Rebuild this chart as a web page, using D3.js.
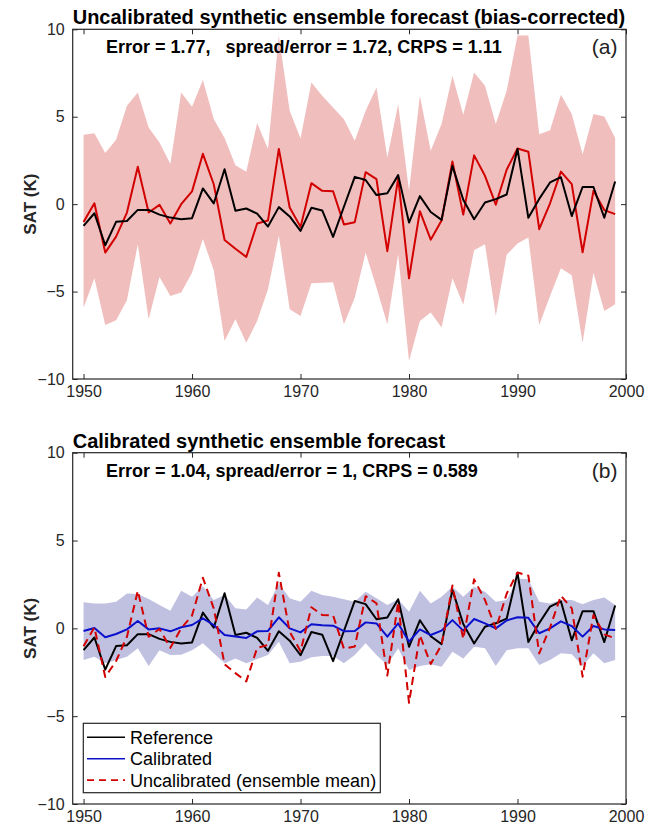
<!DOCTYPE html>
<html>
<head>
<meta charset="utf-8">
<script src="https://cdnjs.cloudflare.com/ajax/libs/d3/7.8.5/d3.min.js"></script>
<style>
  body { margin: 0; background: #fff; }
  text { font-family: "Liberation Sans", Arial, Helvetica, sans-serif; }
</style>
</head>
<body>
<svg id="chart"></svg>
<script>
var width = 659;
var height = 830;

// years on the x axis
var years = d3.range(1950, 2000);

// reference SAT anomaly (black)
var reference = [
  -1.24, -0.52, -2.35, -1.01, -0.96, -0.33, -0.33, -0.60, -0.77, -0.86,
  -0.80,  0.90,  0.04,  2.00, -0.38, -0.25, -0.54, -1.28, -0.17, -0.70,
  -1.53, -0.21, -0.36, -1.87, -0.15,  1.56,  1.38,  0.52,  0.62,  1.66,
  -1.05,  0.46, -0.45, -0.90,  2.19,  0.25, -0.86,  0.09,  0.29,  0.55,
   3.16, -0.78,  0.30,  1.24,  1.54, -0.68,  0.98,  0.98, -0.78,  1.30
];

// uncalibrated ensemble mean (red)
var uncalMean = [
  -1.02,  0.05, -2.77, -1.86, -0.48,  2.14, -0.48, -0.04, -1.11,  0.00,
   0.73,  2.88,  1.14, -2.05, -2.55, -3.02, -1.11, -0.94,  3.16, -0.19,
  -1.30,  1.20,  0.76,  0.74, -1.16, -1.03,  1.83,  1.43, -2.69,  1.50,
  -4.24, -0.40, -2.03, -0.94,  2.44, -0.60,  2.79,  1.62, -0.03,  1.97,
   3.18,  3.00, -1.43,  0.05,  1.86,  1.14, -2.75,  0.76, -0.34, -0.57
];

// uncalibrated ensemble spread (pink band)
var uncalUpper = [
  3.97, 4.06, 2.92, 3.68, 5.63, 6.39, 4.39, 3.53, 2.29, 6.39,
  5.57, 7.10, 4.87, 3.78, 2.23, 1.85, 4.64, 3.15, 9.63, 5.34,
  3.76, 6.96, 6.20, 5.53, 4.85, 3.62, 5.34, 6.67, 2.67, 5.72,
  0.76, 6.20, 3.05, 4.58, 7.34, 5.11, 7.53, 6.77, 4.58, 6.49,
  9.65, 9.65, 4.00, 4.23, 6.25, 5.15, 2.86, 5.15, 5.01, 3.78
];
var uncalLower = [
  -5.92, -4.24, -6.91, -6.64, -5.50, -2.29, -6.58, -4.16, -5.25, -5.06,
  -3.92, -2.00, -3.78, -7.82, -6.58, -7.92, -6.68, -4.87, -1.81, -6.01,
  -6.39, -4.52, -4.50, -4.47, -6.87, -5.35, -2.77, -4.77, -6.87, -2.86,
  -8.97, -6.68, -6.20, -7.06, -4.24, -5.76, -2.63, -2.29, -6.39, -2.90,
  -2.25, -1.91, -6.91, -5.25, -3.66, -4.07, -7.92, -3.92, -6.11, -5.73
];

// calibrated forecast mean (blue)
var calMean = [
  -0.15,  0.02, -0.51, -0.32, -0.06,  0.42, -0.06,  0.00, -0.17,  0.06,
   0.19,  0.57,  0.19, -0.38, -0.47, -0.55, -0.17, -0.15,  0.63,  0.00,
  -0.23,  0.23,  0.17,  0.15, -0.16, -0.15,  0.34,  0.28, -0.47,  0.28,
  -0.76, -0.06, -0.38, -0.13,  0.47, -0.13,  0.53,  0.28,  0.00,  0.45,
   0.63,  0.60, -0.28,  0.00,  0.40,  0.13, -0.47,  0.13, -0.06, -0.09
];

// calibrated spread (lavender band)
var calUpper = [
  1.48, 1.42, 1.42, 1.51, 1.99, 1.95, 1.67, 1.33, 1.00, 2.14,
  1.80, 2.40, 1.61, 1.90, 1.14, 1.08, 1.76, 1.33, 2.56, 1.71,
  1.51, 2.14, 1.90, 1.80, 1.65, 1.51, 2.08, 1.71, 1.33, 1.65,
  0.95, 2.14, 1.42, 1.80, 2.37, 1.80, 2.37, 2.08, 1.51, 1.61,
  2.84, 2.79, 1.51, 1.42, 1.61, 1.61, 1.37, 1.61, 1.76, 1.33
];
var calLower = [
  -1.80, -1.61, -1.99, -1.80, -1.61, -1.14, -2.15, -1.24, -1.52, -1.50,
  -1.24, -0.85, -1.42, -1.99, -1.71, -1.99, -1.75, -1.52, -0.76, -1.99,
  -1.90, -1.65, -1.57, -1.57, -1.99, -1.52, -0.85, -1.52, -2.09, -1.14,
  -2.37, -2.15, -2.04, -2.18, -1.33, -1.71, -1.05, -1.14, -2.15, -1.24,
  -1.14, -1.14, -2.09, -1.80, -1.42, -1.47, -2.15, -1.42, -1.99, -1.80
];

var xTicks = [1950, 1960, 1970, 1980, 1990, 2000];
var yTicks = [-10, -5, 0, 5, 10];
var legendLabels = ['Reference', 'Calibrated', 'Uncalibrated (ensemble mean)'];

var axisColor = '#262626';
var left = 72.7;
var right = 626;

var svg = d3.select('#chart')
  .attr('width', width)
  .attr('height', height);

var xScale = d3.scaleLinear()
  .domain([1949, 2000])
  .range([left, right]);

function rows(upper, lower){
  return years.map(function(y, i){
    return {year: y, hi: upper[i], lo: lower[i]};
  });
}

function drawPanel(top, bottom, cfg){
  var yScale = d3.scaleLinear()
    .domain([-10, 10])
    .range([bottom, top]);

  var g = svg.append('g');

  var clipId = 'clip' + cfg.id;
  g.append('clipPath')
    .attr('id', clipId)
    .append('rect')
      .attr('x', left)
      .attr('y', top)
      .attr('width', right - left)
      .attr('height', bottom - top);

  var plot = g.append('g').attr('clip-path', 'url(#' + clipId + ')');

  // spread band
  plot.append('path')
    .datum(rows(cfg.upper, cfg.lower))
      .attr('fill', cfg.bandColor)
      .attr('stroke', 'none')
      .attr('d', d3.area()
        .x(function(d){ return xScale(d.year); })
        .y0(function(d){ return yScale(d.lo); })
        .y1(function(d){ return yScale(d.hi); })
      );

  var line = d3.line()
    .x(function(d, i){ return xScale(years[i]); })
    .y(function(d){ return yScale(d); });

  cfg.series.forEach(function(s){
    plot.append('path')
      .datum(s.values)
        .attr('fill', 'none')
        .attr('stroke', s.color)
        .attr('stroke-width', 2)
        .attr('stroke-linejoin', 'round')
        .attr('stroke-dasharray', s.dash || null)
        .attr('d', line);
  });

  // axes with inward ticks on all four sides
  g.append('g')
    .attr('transform', 'translate(0,' + bottom + ')')
    .call(d3.axisBottom(xScale).tickValues(xTicks).tickFormat(d3.format('d'))
      .tickSizeInner(-5).tickSizeOuter(0).tickPadding(7))
    .call(styleAxis);

  g.append('g')
    .attr('transform', 'translate(0,' + top + ')')
    .call(d3.axisTop(xScale).tickValues(xTicks).tickFormat('')
      .tickSizeInner(-5).tickSizeOuter(0))
    .call(styleAxis);

  g.append('g')
    .attr('transform', 'translate(' + left + ',0)')
    .call(d3.axisLeft(yScale).tickValues(yTicks)
      .tickSizeInner(-5).tickSizeOuter(0).tickPadding(8))
    .call(styleAxis);

  g.append('g')
    .attr('transform', 'translate(' + right + ',0)')
    .call(d3.axisRight(yScale).tickValues(yTicks).tickFormat('')
      .tickSizeInner(-5).tickSizeOuter(0))
    .call(styleAxis);

  g.append('rect')
    .attr('x', left)
    .attr('y', top)
    .attr('width', right - left)
    .attr('height', bottom - top)
    .attr('fill', 'none')
    .attr('stroke', axisColor)
    .attr('stroke-width', 1.2);

  // title
  g.append('text')
    .attr('x', left)
    .attr('y', top - 5)
    .style('font-size', '20px')
    .style('font-weight', 'bold')
    .attr('fill', '#000')
    .text(cfg.title);

  // score annotation
  g.append('text')
    .attr('x', 106)
    .attr('y', top + 24)
    .attr('xml:space', 'preserve')
    .style('white-space', 'pre')
    .style('font-size', '18px')
    .style('font-weight', 'bold')
    .text(cfg.scores);

  g.append('text')
    .attr('x', 617.5)
    .attr('y', top + 25)
    .style('text-anchor', 'end')
    .style('font-size', '21px')
    .attr('fill', '#222')
    .text(cfg.tag);

  // y axis label
  g.append('text')
    .attr('transform', 'rotate(-90)')
    .attr('x', -(top + bottom) / 2)
    .attr('y', 36)
    .style('text-anchor', 'middle')
    .style('font-size', '17px')
    .style('font-weight', 'bold')
    .attr('fill', '#262626')
    .text('SAT (K)');

  return yScale;
}

function styleAxis(sel){
  sel.select('.domain').remove();
  sel.selectAll('.tick line').attr('stroke', axisColor).attr('stroke-width', 1);
  sel.selectAll('.tick text')
    .attr('fill', '#262626')
    .style('font-size', '16px');
}

drawPanel(29.3, 379, {
  id: 'a',
  tag: '(a)',
  title: 'Uncalibrated synthetic ensemble forecast (bias-corrected)',
  scores: 'Error = 1.77,   spread/error = 1.72, CRPS = 1.11',
  upper: uncalUpper,
  lower: uncalLower,
  bandColor: '#f1bebe',
  series: [
    {values: uncalMean, color: '#d20000'},
    {values: reference, color: '#000000'}
  ]
});

drawPanel(452.7, 804, {
  id: 'b',
  tag: '(b)',
  title: 'Calibrated synthetic ensemble forecast',
  scores: 'Error = 1.04, spread/error = 1, CRPS = 0.589',
  upper: calUpper,
  lower: calLower,
  bandColor: '#c0c1e1',
  series: [
    {values: reference, color: '#000000'},
    {values: calMean, color: '#0a10cc'},
    {values: uncalMean, color: '#d20000', dash: '8,5'}
  ]
});

// legend
var legendStyles = [
  {color: '#000000', dash: null},
  {color: '#0a10cc', dash: null},
  {color: '#d20000', dash: '7,5'}
];

var legend = svg.append('g');

legend.append('rect')
  .attr('x', 83.3)
  .attr('y', 723.3)
  .attr('width', 297)
  .attr('height', 69.4)
  .attr('fill', '#fff')
  .attr('stroke', axisColor)
  .attr('stroke-width', 1.2);

legendLabels.forEach(function(label, i){
  var y = 737.3 + i * 21.4;
  legend.append('line')
    .attr('x1', 87)
    .attr('x2', 125)
    .attr('y1', y)
    .attr('y2', y)
    .attr('stroke', legendStyles[i].color)
    .attr('stroke-width', 1.6)
    .attr('stroke-dasharray', legendStyles[i].dash);
  legend.append('text')
    .attr('x', 130)
    .attr('y', y)
    .attr('dy', '0.36em')
    .style('font-size', '18px')
    .attr('fill', '#000')
    .text(label);
});
</script>
</body>
</html>
